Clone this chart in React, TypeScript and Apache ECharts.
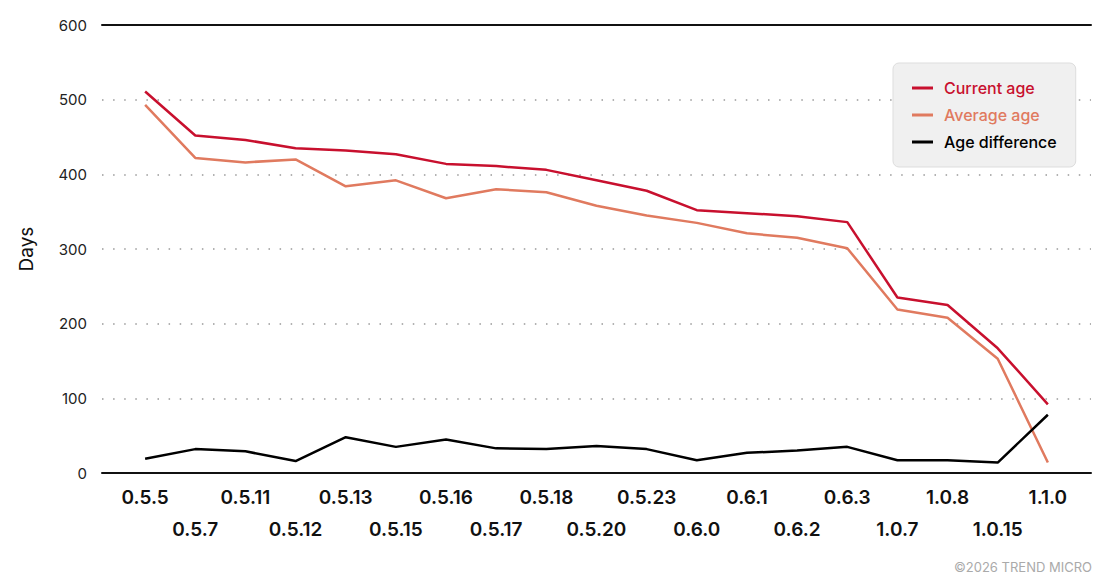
import React, { useEffect, useRef } from "react";
import * as echarts from "echarts";

const versions = [
  "0.5.5", "0.5.7", "0.5.11", "0.5.12", "0.5.13", "0.5.15", "0.5.16",
  "0.5.17", "0.5.18", "0.5.20", "0.5.23", "0.6.0", "0.6.1", "0.6.2",
  "0.6.3", "1.0.7", "1.0.8", "1.0.15", "1.1.0",
];
const currentAge = [
  511, 452, 446, 435, 432, 427, 414, 411, 406, 392, 378, 352, 348, 344, 336,
  235, 225, 167, 92,
];
const averageAge = [
  493, 422, 416, 420, 384, 392, 368, 380, 376, 358, 345, 335, 321, 315, 301,
  219, 208, 153, 14,
];
const ageDifference = [
  19, 32, 29, 16, 48, 35, 45, 33, 32, 36, 32, 17, 27, 30, 35, 17, 17, 14, 78,
];
const yTicks = [0, 100, 200, 300, 400, 500, 600];

const FONT = "Inter, 'Noto Sans', sans-serif";
const RED = "#c8102e";
const ORANGE = "#e07a5f";

const App = () => {
  const chartRef = useRef<HTMLDivElement | null>(null);

  useEffect(() => {
    document.body.style.margin = "0";
    if (!chartRef.current) return;
    const myChart = echarts.init(chartRef.current, null, { renderer: "svg" });

    const toPoints = (arr: number[]) => arr.map((v, i) => [i, v]);
    const xMin = -0.86;
    const xMax = versions.length - 1 + 0.86;

    const option = {
      animation: false,
      textStyle: { fontFamily: FONT },
      grid: { left: 102, right: 17, top: 25, bottom: 114 },
      legend: {
        orient: "vertical",
        left: 893,
        top: 63,
        padding: [17, 19, 17, 19],
        itemGap: 11,
        itemWidth: 21,
        itemHeight: 3,
        backgroundColor: "#f0f0f0",
        borderColor: "#dddddd",
        borderWidth: 1,
        borderRadius: 6,
        textStyle: {
          fontFamily: FONT,
          fontSize: 16,
          fontWeight: 500,
          padding: [0, 0, 0, 6],
        },
        data: [
          { name: "Current age", icon: "rect", textStyle: { color: RED } },
          { name: "Average age", icon: "rect", textStyle: { color: ORANGE } },
          { name: "Age difference", icon: "rect", textStyle: { color: "#000" } },
        ],
      },
      xAxis: [
        {
          type: "value",
          min: xMin,
          max: xMax,
          axisLine: { show: true, onZero: false, lineStyle: { color: "#111", width: 2 } },
          axisTick: { show: false },
          splitLine: { show: false },
          axisLabel: {
            customValues: versions.map((_, i) => i),
            formatter: (v: number) => {
              const i = Math.round(v);
              if (i < 0 || i >= versions.length) return "";
              return i % 2 ? "\n" + versions[i] : versions[i];
            },
            fontFamily: FONT,
            fontSize: 19,
            fontWeight: 600,
            color: "#111",
            lineHeight: 32,
            margin: 8,
          },
        },
        {
          type: "value",
          position: "top",
          min: xMin,
          max: xMax,
          axisLine: { show: true, onZero: false, lineStyle: { color: "#111", width: 2 } },
          axisTick: { show: false },
          axisLabel: { show: false },
          splitLine: { show: false },
        },
      ],
      yAxis: {
        type: "value",
        min: yTicks[0],
        max: yTicks[yTicks.length - 1],
        interval: 100,
        name: "Days",
        nameLocation: "middle",
        nameGap: 66,
        nameTextStyle: { fontFamily: FONT, fontSize: 19, color: "#111" },
        axisLine: { show: false, onZero: false },
        axisTick: { show: false },
        axisLabel: { fontFamily: FONT, fontSize: 15, color: "#222", margin: 15 },
        splitLine: {
          show: true,
          lineStyle: { color: "#999", width: 1.5, type: [1.5, 9.6] },
        },
      },
      series: [
        {
          name: "Current age",
          type: "line",
          data: toPoints(currentAge),
          symbol: "none",
          color: RED,
          lineStyle: { color: RED, width: 2.5 },
        },
        {
          name: "Average age",
          type: "line",
          data: toPoints(averageAge),
          symbol: "none",
          color: ORANGE,
          lineStyle: { color: ORANGE, width: 2.5 },
        },
        {
          name: "Age difference",
          type: "line",
          data: toPoints(ageDifference),
          symbol: "none",
          color: "#000",
          lineStyle: { color: "#000", width: 2.5 },
        },
      ],
      graphic: [
        {
          type: "text",
          right: 16,
          bottom: 14,
          style: {
            text: "©2026 TREND MICRO",
            fontFamily: FONT,
            fontSize: 13,
            fill: "#aaaaaa",
          },
        },
      ],
    };

    myChart.setOption(option);

    return () => {
      myChart.dispose();
    };
  }, []);

  return <div ref={chartRef} style={{ width: "1108px", height: "587px" }}></div>;
};

export default App;
